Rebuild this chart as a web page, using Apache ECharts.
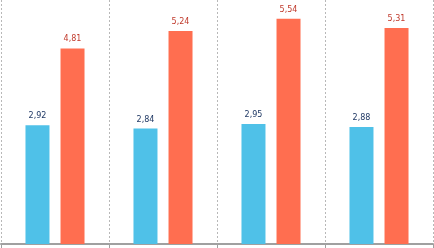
<!DOCTYPE html>
<html><head><meta charset="utf-8">
<script src="https://cdn.jsdelivr.net/npm/echarts@6/dist/echarts.min.js"></script>
<style>html,body{margin:0;padding:0;background:#fff}#c{width:434px;height:248px}</style>
</head><body><div id="c"></div>
<script>
const categories = ['A', 'B', 'C', 'D'];
const seriesBlue = [2.92, 2.84, 2.95, 2.88];
const seriesRed = [4.81, 5.24, 5.54, 5.31];

const chart = echarts.init(document.getElementById('c'), null, {renderer: 'canvas'});
const fmt = p => p.value.toFixed(2).replace('.', ',');
chart.setOption({
  animation: false,
  grid: {left: 1, right: 1, top: 0, bottom: 4, containLabel: false},
  xAxis: {
    type: 'category', data: categories,
    axisLine: {show: true, lineStyle: {color: '#a0a0a0', width: 2}},
    axisTick: {show: true, alignWithLabel: false, length: 4, lineStyle: {color: '#a0a0a0'}},
    axisLabel: {show: false},
    splitLine: {show: true, lineStyle: {color: '#b8b8b8', type: [2, 2], width: 1}}
  },
  yAxis: {type: 'value', min: 0, max: 6, show: false, splitLine: {show: false}},
  series: [
    {type: 'bar', data: seriesBlue, barWidth: 24, barGap: '46%',
     itemStyle: {color: '#4fc1e8'},
     label: {show: true, position: 'top', distance: 5, formatter: fmt, color: '#1f3864', fontSize: 8, fontFamily: 'DejaVu Sans'}},
    {type: 'bar', data: seriesRed, barWidth: 24,
     itemStyle: {color: '#ff6e50'},
     label: {show: true, position: 'top', distance: 5, formatter: fmt, color: '#c0392b', fontSize: 8, fontFamily: 'DejaVu Sans'}}
  ]
});
</script></body></html>
